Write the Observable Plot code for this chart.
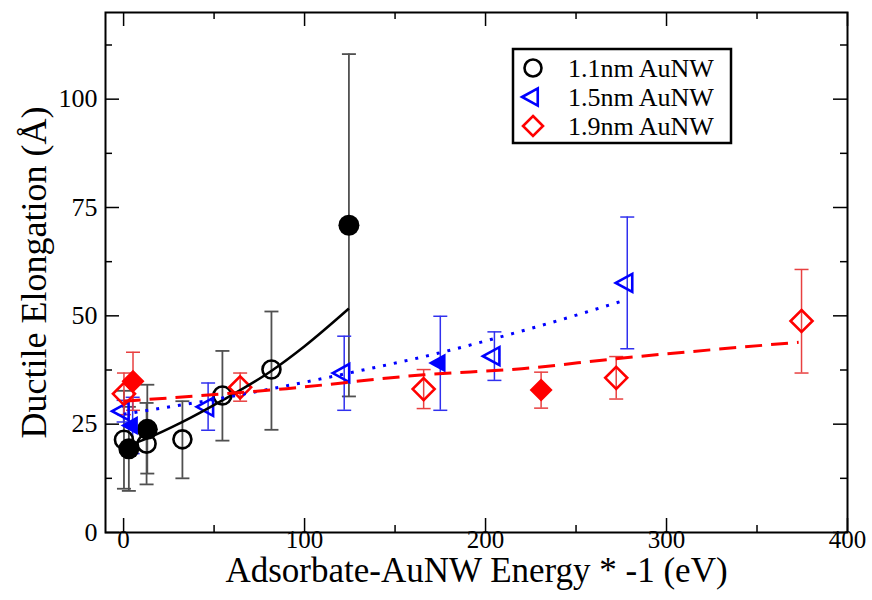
<!DOCTYPE html>
<html><head><meta charset="utf-8">
<script src="https://cdn.jsdelivr.net/npm/d3@7"></script>
<script src="https://cdn.jsdelivr.net/npm/@observablehq/plot@0.6"></script>
<style>
html,body{margin:0;padding:0;background:#fff;}
#chart svg{display:block;}
</style>
</head><body><div id="chart"></div>
<script>
// ---- data ----
const seriesNames = ["1.1nm AuNW", "1.5nm AuNW", "1.9nm AuNW"];

// 1.1 nm AuNW (circles)
const x11 = [0.2, 2.9, 12.7, 13.1, 32.5, 54.6, 81.7, 124.5];
const y11 = [21.4, 19.3, 20.5, 23.8, 21.5, 31.6, 37.6, 70.9];
const lo11 = [10.1, 9.6, 11.1, 13.6, 12.5, 21.2, 23.7, 31.4];
const hi11 = [32.7, 29.0, 29.9, 34.1, 30.3, 41.9, 51.0, 110.4];
const filled11 = [false, true, false, true, false, false, false, true];

// 1.5 nm AuNW (left triangles)
const x15 = [0, 5, 46.7, 121.9, 175, 204.9, 278.3];
const y15 = [28.0, 24.7, 29.0, 36.8, 39.1, 40.7, 57.6];
const lo15 = [25.5, 18.2, 23.6, 28.2, 28.2, 35.1, 42.4];
const hi15 = [30.5, 31.2, 34.5, 45.3, 49.9, 46.3, 72.8];
const filled15 = [false, true, false, false, true, false, false];

// 1.9 nm AuNW (diamonds)
const x19 = [0.2, 5.2, 64.4, 165.8, 230.7, 272.2, 374.6];
const y19 = [32.0, 34.9, 33.5, 33.1, 32.9, 35.7, 48.8];
const lo19 = [27.2, 28.2, 30.3, 28.6, 28.7, 30.8, 36.8];
const hi19 = [36.8, 41.6, 36.8, 37.6, 37.0, 40.6, 60.7];
const filled19 = [false, true, false, false, true, false, false];

// fit curves
const fitX11 = [2, 13, 32, 55, 82, 100, 124.5];
const fitY11 = [19.9, 21.7, 25.4, 30.6, 37.4, 43.0, 51.7];
const fitX15 = [0, 15, 43, 87, 129, 175, 207, 231, 277];
const fitY15 = [27.3, 28.3, 30.2, 33.6, 37.2, 41.5, 45.0, 47.8, 53.6];
const fitX19 = [0, 90, 166, 220, 272, 373];
const fitY19 = [30.3, 33.2, 36.4, 37.8, 40.1, 43.9];

// axis ticks
const xMajor = [0, 100, 200, 300, 400];
const xMinor = [50, 150, 250, 350];
const yMajor = [0, 25, 50, 75, 100];
const yMinor = [12.5, 37.5, 62.5, 87.5, 112.5];
const xLabel = "Adsorbate-AuNW Energy * -1 (eV)";
const yLabel = "Ductile Elongation (Å)";

// ---- symbols ----
const triLeft = {draw(ctx, size) {const r = Math.sqrt(size / Math.PI);
  ctx.moveTo(-1.15 * r, 0); ctx.lineTo(0.5 * r, -0.9 * r); ctx.lineTo(0.5 * r, 0.9 * r); ctx.closePath();}};
const diamondSym = {draw(ctx, size) {const r = Math.sqrt(size / Math.PI);
  ctx.moveTo(0, -r); ctx.lineTo(r, 0); ctx.lineTo(0, r); ctx.lineTo(-r, 0); ctx.closePath();}};
const capSym = {draw(ctx, size) {const r = Math.sqrt(size / Math.PI);
  ctx.moveTo(-r, 0); ctx.lineTo(r, 0);}};

const build = (xs, ys, los, his, fs) => xs.map((x, i) => ({x, y: ys[i], lo: los[i], hi: his[i], filled: fs[i]}));
const fit = (xs, ys) => xs.map((x, i) => ({x, y: ys[i]}));

const series = [
  {rows: build(x11, y11, lo11, hi11, filled11), fit: fit(fitX11, fitY11), color: "#000000", err: "#505050", errW: 1.8,
   symbol: "circle", rOpen: 9, rFill: 10.5, dash: null, cap: "butt"},
  {rows: build(x15, y15, lo15, hi15, filled15), fit: fit(fitX15, fitY15), color: "#0000ff", err: "#3030ee", errW: 1.5,
   symbol: triLeft, rOpen: 10, rFill: 10.5, dash: "3 8", cap: "butt"},
  {rows: build(x19, y19, lo19, hi19, filled19), fit: fit(fitX19, fitY19), color: "#ff0000", err: "#e84040", errW: 1.5,
   symbol: diamondSym, rOpen: 11, rFill: 11.5, dash: "17 9", cap: "butt"}
];

const W = 872, H = 600, mL = 105, mR = 25, mT = 12, mB = 68;
const innerW = W - mL - mR, innerH = H - mT - mB;

const marks = [];
for (const s of series) {
  marks.push(Plot.ruleX(s.rows, {x: "x", y1: "lo", y2: "hi", stroke: s.err, strokeWidth: s.errW}));
  marks.push(Plot.dot(s.rows, {x: "x", y: "lo", symbol: capSym, r: 7, stroke: s.err, strokeWidth: s.errW, fill: "none"}));
  marks.push(Plot.dot(s.rows, {x: "x", y: "hi", symbol: capSym, r: 7, stroke: s.err, strokeWidth: s.errW, fill: "none"}));
}
for (const s of series) {
  marks.push(Plot.dot(s.rows.filter(d => !d.filled), {x: "x", y: "y", symbol: s.symbol, r: s.rOpen, stroke: s.color, strokeWidth: 2.6, fill: "none"}));
  marks.push(Plot.dot(s.rows.filter(d => d.filled), {x: "x", y: "y", symbol: s.symbol, r: s.rFill, fill: s.color, stroke: "none"}));
}
for (const s of series) {
  marks.push(Plot.line(s.fit, {x: "x", y: "y", curve: "monotone-x", stroke: s.color, strokeWidth: s.dash ? 3 : 2.5,
    strokeDasharray: s.dash, strokeLinecap: s.cap}));
}

// ticks (inward, all four sides)
const tickW = 1.5;
marks.push(Plot.tickX(xMajor, {x: d => d, insetTop: innerH - 14, stroke: "#000", strokeWidth: tickW}));
marks.push(Plot.tickX(xMinor, {x: d => d, insetTop: innerH - 7, stroke: "#000", strokeWidth: tickW}));
marks.push(Plot.tickX(xMajor, {x: d => d, insetBottom: innerH - 14, stroke: "#000", strokeWidth: tickW}));
marks.push(Plot.tickX(xMinor, {x: d => d, insetBottom: innerH - 7, stroke: "#000", strokeWidth: tickW}));
marks.push(Plot.tickY(yMajor, {y: d => d, insetRight: innerW - 14, stroke: "#000", strokeWidth: tickW}));
marks.push(Plot.tickY(yMinor, {y: d => d, insetRight: innerW - 7, stroke: "#000", strokeWidth: tickW}));
marks.push(Plot.tickY(yMajor, {y: d => d, insetLeft: innerW - 14, stroke: "#000", strokeWidth: tickW}));
marks.push(Plot.tickY(yMinor, {y: d => d, insetLeft: innerW - 7, stroke: "#000", strokeWidth: tickW}));
marks.push(Plot.frame({stroke: "#000", strokeWidth: 2}));

// tick labels & axis titles
marks.push(Plot.text(xMajor, {x: d => d, frameAnchor: "bottom", dy: 15, text: d => String(d), fontSize: 25, fill: "#000", textAnchor: "middle"}));
marks.push(Plot.text(yMajor, {y: d => d, frameAnchor: "left", dx: -8, textAnchor: "end", text: d => String(d), fontSize: 26, fill: "#000"}));
marks.push(Plot.text([xLabel], {frameAnchor: "bottom", dy: 49, text: d => d, fontSize: 35, fill: "#000", textAnchor: "middle"}));
marks.push(Plot.text([yLabel], {frameAnchor: "left", dx: -71, rotate: -90, text: d => d, fontSize: 36, fill: "#000", textAnchor: "middle"}));

const chart = Plot.plot({
  width: W, height: H,
  marginLeft: mL, marginRight: mR, marginTop: mT, marginBottom: mB,
  x: {domain: [-10, 400], axis: null},
  y: {domain: [0, 120], axis: null},
  style: {fontFamily: "'Liberation Serif', 'DejaVu Serif', serif", background: "#fff", color: "#000"},
  marks
});
document.getElementById("chart").appendChild(chart);

// ---- legend inside the plot (top right) ----
const svg = d3.select(chart);
const lg = svg.append("g").attr("class", "legend");
const lx = 513, ly = 49, lw = 218, lh = 94;
lg.append("rect").attr("x", lx).attr("y", ly).attr("width", lw).attr("height", lh)
  .attr("fill", "#fff").attr("stroke", "#000").attr("stroke-width", 2.5);
const legSyms = [d3.symbolCircle, triLeft, diamondSym];
const legR = [8.5, 9.5, 10];
series.forEach((s, i) => {
  const cy = ly + 19 + i * 29;
  lg.append("path")
    .attr("d", d3.symbol(legSyms[i], Math.PI * legR[i] * legR[i])())
    .attr("transform", `translate(${lx + 20},${cy})`)
    .attr("fill", "none").attr("stroke", s.color).attr("stroke-width", 2.6);
  lg.append("text").attr("x", lx + 55).attr("y", cy).attr("dy", "0.35em")
    .attr("text-anchor", "start")
    .attr("font-size", 26).attr("font-family", "'Liberation Serif', serif").attr("fill", "#000")
    .text(seriesNames[i]);
});
</script>
</body></html>
